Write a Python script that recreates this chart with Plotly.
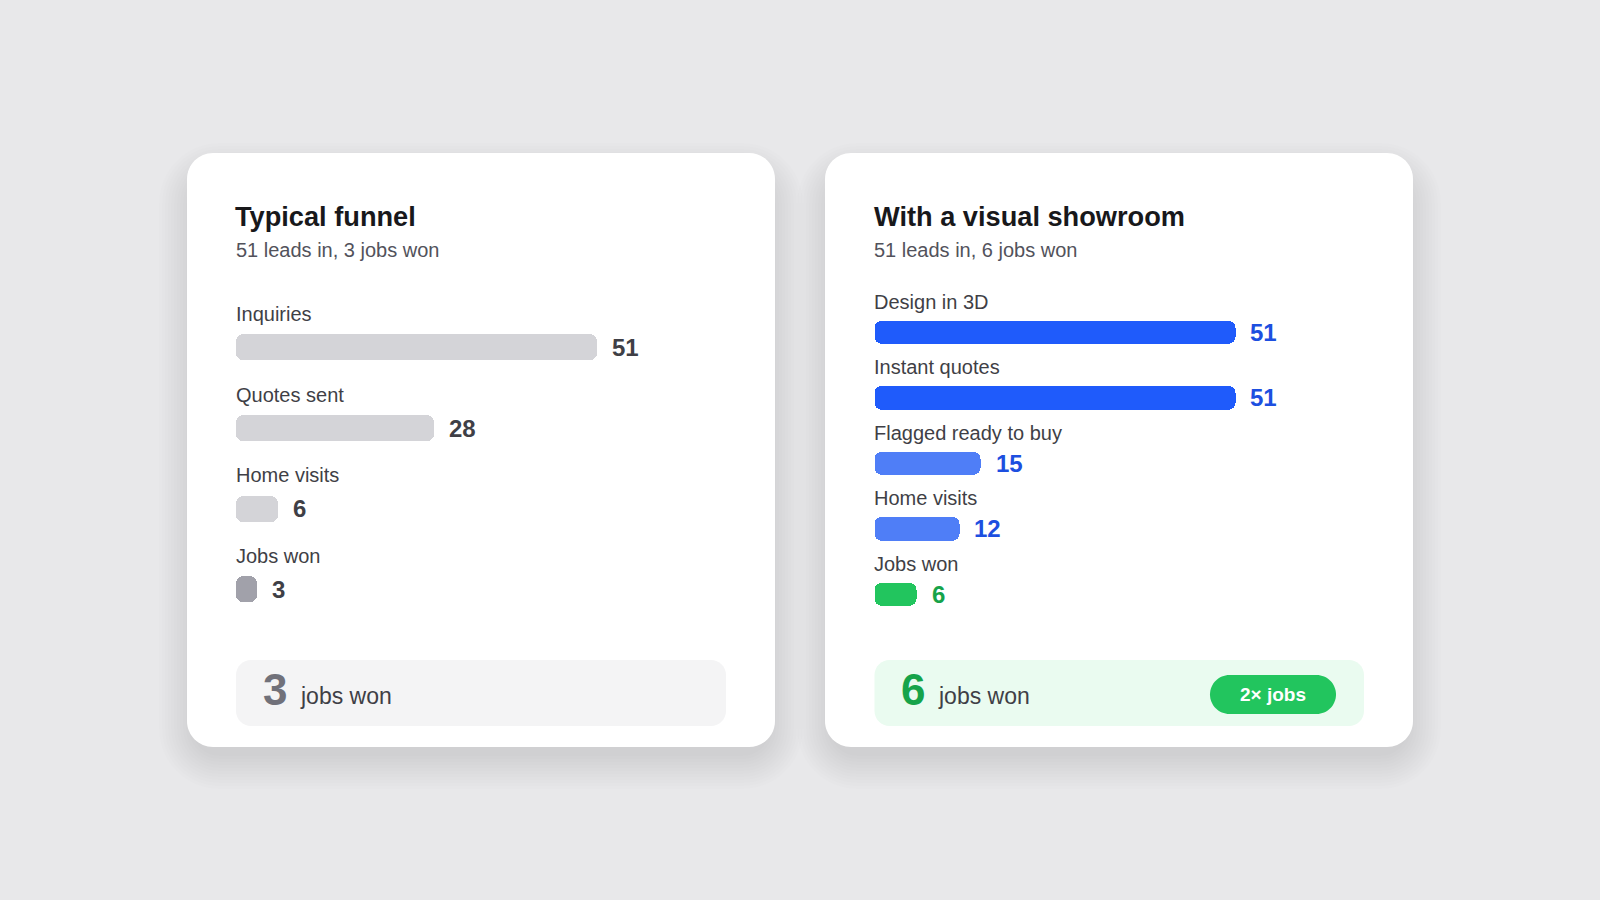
import plotly.graph_objects as go

W, H = 1600, 900

# ---------------- data ----------------
left_title = "Typical funnel"
left_subtitle = "51 leads in, 3 jobs won"
left_stages = ["Inquiries", "Quotes sent", "Home visits", "Jobs won"]
left_values = [51, 28, 6, 3]
left_total = 3

right_title = "With a visual showroom"
right_subtitle = "51 leads in, 6 jobs won"
right_stages = ["Design in 3D", "Instant quotes", "Flagged ready to buy", "Home visits", "Jobs won"]
right_values = [51, 51, 15, 12, 6]
right_total = 6

footer_label = "jobs won"
badge_text = "2× jobs"

# ---------------- styles ----------------
FONT = "Liberation Sans, Arial, Helvetica, sans-serif"
PAGE_BG = "#e8e8ea"
left_bar_colors = ["#d4d4d8", "#d4d4d8", "#d4d4d8", "#a1a1aa"]
left_val_colors = ["#3f3f46", "#3f3f46", "#3f3f46", "#3f3f46"]
right_bar_colors = ["#1f5bfb", "#1f5bfb", "#4f7ef7", "#4f7ef7", "#22c55e"]
right_val_colors = ["#1d4fe0", "#1d4fe0", "#1d4fe0", "#1d4fe0", "#16a34a"]

PX_PER_UNIT = 7.07


def px(x):
    return x / W


def py(y):
    return 1 - y / H


def rrect(x0, y0, x1, y1, r):
    k = 0.5523 * r

    def P(x, y):
        return f"{px(x):.6f},{py(y):.6f}"

    s = f"M{P(x0 + r, y0)} L{P(x1 - r, y0)} "
    s += f"C{P(x1 - r + k, y0)} {P(x1, y0 + r - k)} {P(x1, y0 + r)} "
    s += f"L{P(x1, y1 - r)} "
    s += f"C{P(x1, y1 - r + k)} {P(x1 - r + k, y1)} {P(x1 - r, y1)} "
    s += f"L{P(x0 + r, y1)} "
    s += f"C{P(x0 + r - k, y1)} {P(x0, y1 - r + k)} {P(x0, y1 - r)} "
    s += f"L{P(x0, y0 + r)} "
    s += f"C{P(x0, y0 + r - k)} {P(x0 + r - k, y0)} {P(x0 + r, y0)} Z"
    return s


fig = go.Figure()
shapes = []
annotations = []


def add_card(cx0, cy0, cx1, cy1):
    # soft shadow
    for i in range(12):
        e = 1 + i * 3
        shapes.append(dict(type="path", xref="paper", yref="paper", layer="below",
                           path=rrect(cx0 - e + 6, cy0 - e + 24, cx1 + e - 6, cy1 + e + 8, 26 + e),
                           fillcolor="rgba(0,0,0,0.0068)", line=dict(width=0)))
    shapes.append(dict(type="path", xref="paper", yref="paper", layer="below",
                       path=rrect(cx0, cy0, cx1, cy1, 26),
                       fillcolor="#ffffff", line=dict(width=0)))


def add_panel(idx, x_left, stages, values, bar_colors, val_colors, c0, step, bar_h, label_up,
              title, subtitle):
    xa = "x" if idx == 1 else "x2"
    ya = "y" if idx == 1 else "y2"
    n = len(values)
    ypos = list(range(n))
    fig.add_trace(go.Bar(orientation="h", x=values, y=ypos, base=0,
                         marker=dict(color=bar_colors, line=dict(width=0)),
                         width=bar_h / step, xaxis=xa, yaxis=ya,
                         hoverinfo="skip", showlegend=False))
    dom_w = 500
    top = c0 - 0.5 * step
    bot = c0 + (n - 0.5) * step
    axx = dict(domain=[px(x_left), px(x_left + dom_w)], range=[0, dom_w / PX_PER_UNIT],
               visible=False, fixedrange=True, anchor=ya)
    axy = dict(domain=[py(bot), py(top)], range=[n - 0.5, -0.5],
               visible=False, fixedrange=True, anchor=xa)
    if idx == 1:
        fig.update_layout(xaxis=axx, yaxis=axy)
    else:
        fig.update_layout(xaxis2=axx, yaxis2=axy)

    for i, (s, v) in enumerate(zip(stages, values)):
        annotations.append(dict(xref=xa, yref=ya, x=0, y=i, yshift=label_up, xshift=-2, text=s,
                                showarrow=False, xanchor="left", yanchor="middle",
                                font=dict(family=FONT, size=20, color="#3f3f46")))
        annotations.append(dict(xref=xa, yref=ya, x=v, y=i, xshift=13, text=str(v),
                                showarrow=False, xanchor="left", yanchor="middle",
                                font=dict(family=FONT, size=24, color=val_colors[i], weight="bold")))

    annotations.append(dict(xref="paper", yref="paper", x=px(x_left - 3), y=py(216), text=title,
                            showarrow=False, xanchor="left", yanchor="middle",
                            font=dict(family=FONT, size=27.2, color="#18181b", weight="bold")))
    annotations.append(dict(xref="paper", yref="paper", x=px(x_left - 2.5), y=py(250), text=subtitle,
                            showarrow=False, xanchor="left", yanchor="middle",
                            font=dict(family=FONT, size=20, color="#52525b")))


# cards
add_card(187, 153, 775, 747)
add_card(825, 153, 1413, 747)

add_panel(1, 236, left_stages, left_values, left_bar_colors, left_val_colors,
          347.5, 80.6, 26, 33.5, left_title, left_subtitle)
add_panel(2, 874.5, right_stages, right_values, right_bar_colors, right_val_colors,
          332.5, 65.4, 23.5, 30.5, right_title, right_subtitle)

# footers
shapes.append(dict(type="path", xref="paper", yref="paper", layer="below",
                   path=rrect(236, 660, 726, 726, 15), fillcolor="#f4f4f5", line=dict(width=0)))
shapes.append(dict(type="path", xref="paper", yref="paper", layer="below",
                   path=rrect(874.5, 660, 1364, 726, 15), fillcolor="#eafbf0", line=dict(width=0)))
shapes.append(dict(type="path", xref="paper", yref="paper", layer="below",
                   path=rrect(1210, 675, 1336, 714, 19.5), fillcolor="#22c55e", line=dict(width=0)))

for x0, total, col in [(261, left_total, "#71717a"), (899, right_total, "#16a34a")]:
    annotations.append(dict(xref="paper", yref="paper", x=px(x0), y=py(689), text=str(total),
                            showarrow=False, xanchor="left", yanchor="middle",
                            font=dict(family=FONT, size=44, color=col, weight="bold")))
    annotations.append(dict(xref="paper", yref="paper", x=px(x0 + 37), y=py(696), text=footer_label,
                            showarrow=False, xanchor="left", yanchor="middle",
                            font=dict(family=FONT, size=23, color="#3f3f46")))

annotations.append(dict(xref="paper", yref="paper", x=px(1273), y=py(694.5), text=badge_text,
                        showarrow=False, xanchor="center", yanchor="middle",
                        font=dict(family=FONT, size=19, color="#ffffff", weight="bold")))

fig.update_layout(
    width=W, height=H, margin=dict(l=0, r=0, t=0, b=0),
    paper_bgcolor=PAGE_BG, plot_bgcolor="rgba(0,0,0,0)",
    barcornerradius=7, bargap=0,
    shapes=shapes, annotations=annotations,
    showlegend=False,
)

fig.write_html("out.html", config={"displayModeBar": False},
               post_script="document.body.style.margin='0';document.body.style.overflow='hidden';")
